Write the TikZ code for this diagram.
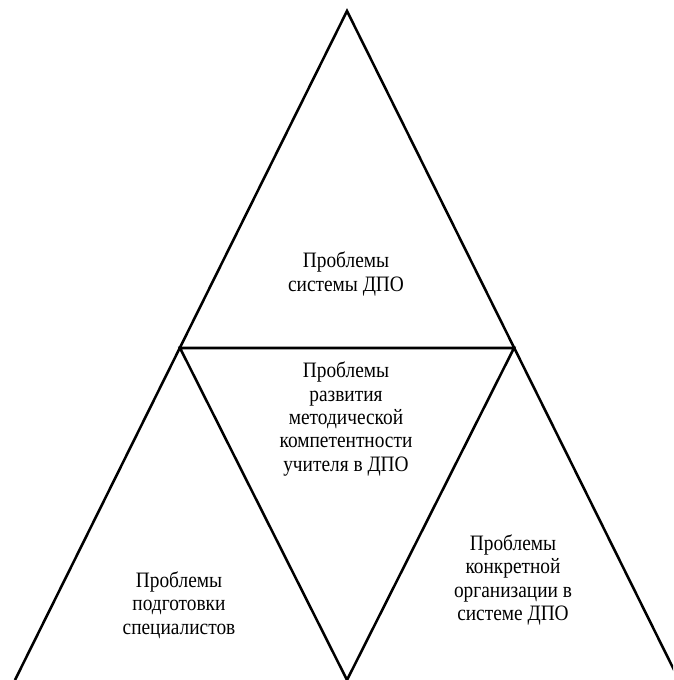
\documentclass[tikz,border=0pt]{standalone}
\usepackage{fontspec}
\setmainfont[FakeStretch=0.88]{Liberation Serif}
\usepackage{tikz}
\usetikzlibrary{positioning}

\begin{document}
\begin{tikzpicture}[x=0.75pt,y=-0.75pt,
        problem/.style={align=center,font=\fontsize{16.5}{17.6}\selectfont,inner sep=0pt},
        edge/.style={draw,line width=1.9pt,line join=miter}]
            \useasboundingbox (0,0) rectangle (673,680);
            \clip (0,0) rectangle (673,680);

            \coordinate (apex) at (347,11);
            \coordinate (left) at (15,680);
            \coordinate (right) at (679,680);
            \coordinate (midleft) at (180,348);
            \coordinate (midright) at (514,348);
            \coordinate (bottom) at (347,680);

            \draw[edge] (left) -- (apex) -- (right);
            \draw[edge] (midleft) -- (midright) -- (bottom) -- cycle;

            \node[problem] (system) at (346,274) {Проблемы\\системы ДПО};
            \node[problem] (method) at (346,419) {Проблемы\\развития\\методической\\компетентности\\учителя в ДПО};
            \node[problem] (training) at (179,605) {Проблемы\\подготовки\\специалистов};
            \node[problem] (organisation) at (513,580) {Проблемы\\конкретной\\организации в\\системе ДПО};
        \end{tikzpicture}
\end{document}
